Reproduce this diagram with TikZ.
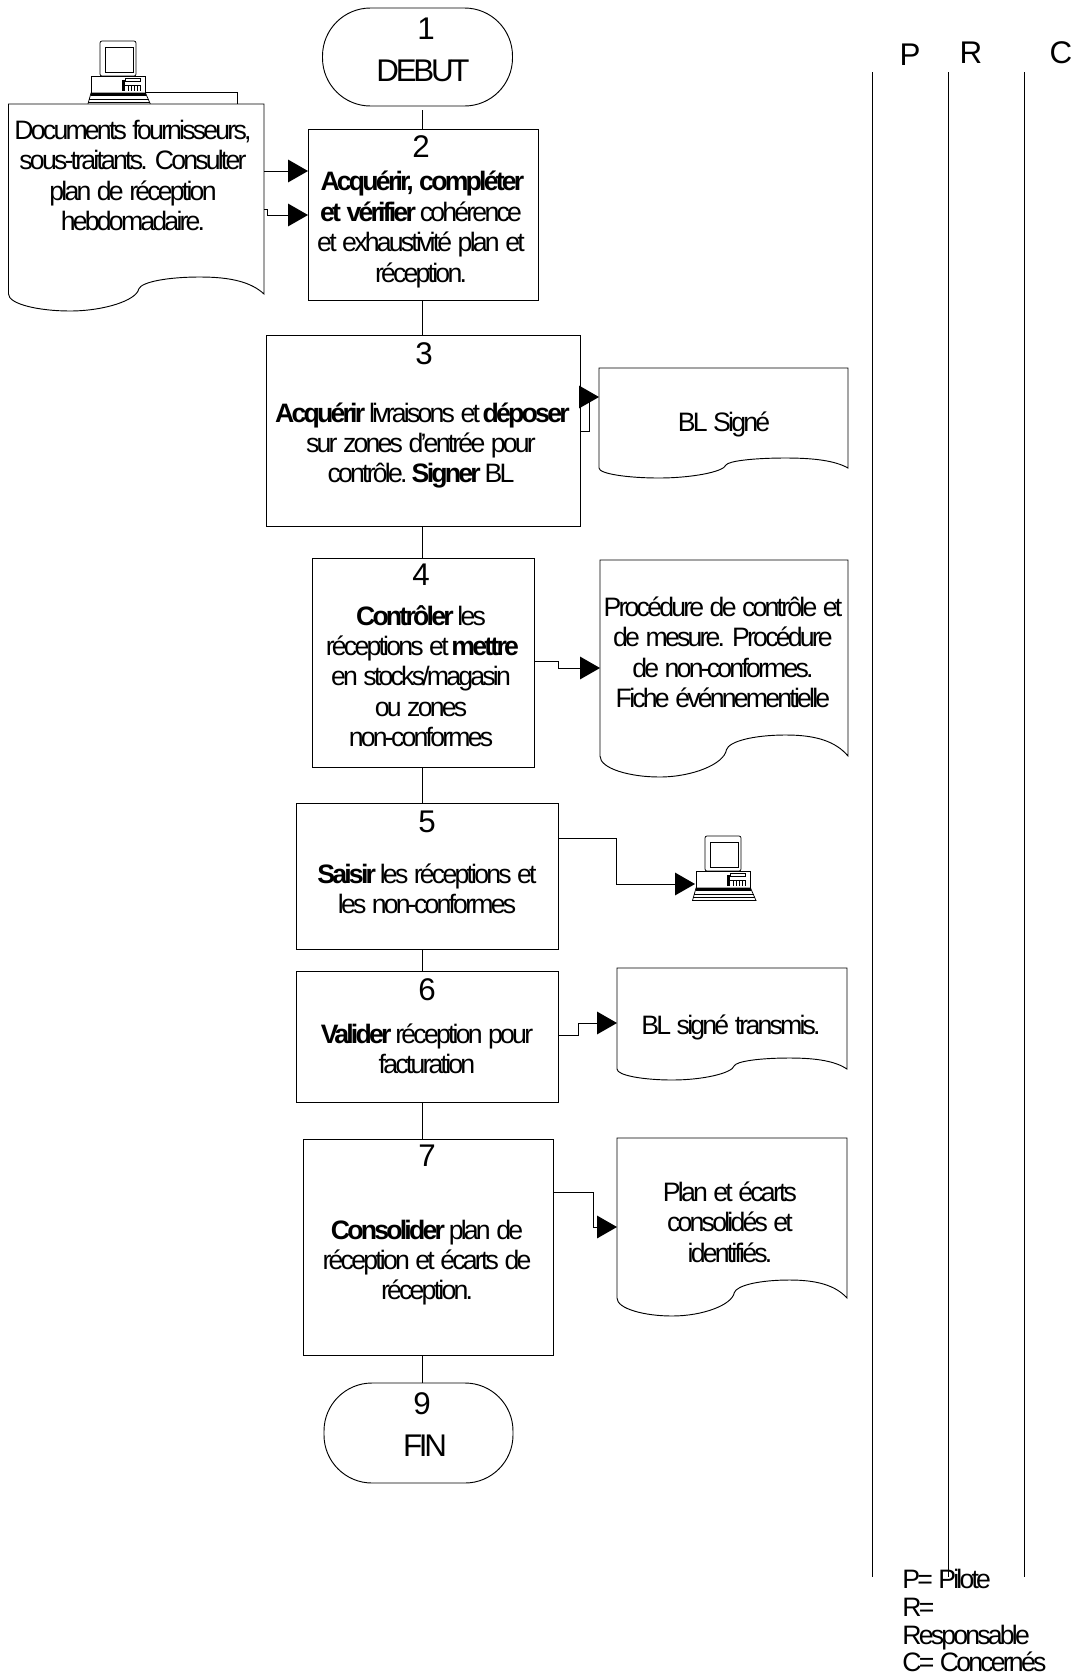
\documentclass[tikz,border=0pt]{standalone}
\usepackage{fontspec}
\setmainfont[LetterSpace=-10.5,WordSpace=1.2]{Liberation Sans}
\usetikzlibrary{arrows.meta,fit}
\newcommand\bw[1]{\textbf{#1}\hspace*{5pt}\ignorespaces}
\tikzset{
  x=0.75pt,y=-0.75pt,
  ln/.style={draw=black,line width=0.7pt},
  arr/.style={ln,-{Triangle[length=15pt,width=17pt,fill=black]}},
  boxn/.style={ln,rectangle,inner sep=0pt,outer sep=0pt},
  term/.style={ln,rectangle,rounded corners=36pt,inner sep=0pt,outer sep=0pt},
  body/.style={align=center,inner sep=0pt,font=\fontsize{20pt}{22.8pt}\selectfont},
  big/.style={inner sep=0pt,font=\fontsize{23.5pt}{26pt}\selectfont},
  pics/computer/.style={code={
    \begin{scope}[line width=0.55pt,draw=black,fill=white]
    \filldraw[rounded corners=1.5pt] (13,0) rectangle (49,35);
    \draw (18,6) rectangle (46,31);
    \filldraw (4.5,35) rectangle (58,52);
    \filldraw (0.5,64.5) -- (4,52) -- (58.5,52) -- (64,64.5) -- cycle;
    \fill[black] (3.5,52) rectangle (59,54.5);
    \draw (2,58) -- (62,58) (1,61) -- (63,61);
    \draw (38,37.5) rectangle (53,40.5);
    \fill[black] (34.5,39) rectangle (38,50);
    \draw (38,44) -- (53,44);
    \draw (41,44) -- (41,50) (44,44) -- (44,50) (47,44) -- (47,50) (50,44) -- (50,50) (53,44) -- (53,50);
    \end{scope}
  }},
}
\newcommand\dpt[2]{({\docx+#1*\docw},{\docy+#2*\doch})}
\newcommand\docshape[6]{%
  \pgfmathsetmacro\docx{#2}\pgfmathsetmacro\docw{#4-#2}%
  \pgfmathsetmacro\docy{#5}\pgfmathsetmacro\doch{#6-#5}%
  \coordinate (#1nw) at (#2,#3);\coordinate (#1se) at (#4,#5);
  \node[fit=(#1nw)(#1se),inner sep=0pt,outer sep=0pt] (#1) {};
  \draw[ln,fill=white] (#2,#5) -- (#2,#3) -- (#4,#3) -- \dpt{1}{0}
    .. controls \dpt{.95}{-.7} and \dpt{.87}{-1} .. \dpt{.75}{-1}
    .. controls \dpt{.62}{-1} and \dpt{.52}{-.7} .. \dpt{.51}{-.3}
    .. controls \dpt{.5}{.4} and \dpt{.37}{1} .. \dpt{.24}{1}
    .. controls \dpt{.12}{1} and \dpt{0}{.6} .. \dpt{0}{0};
}
\begin{document}
\begin{tikzpicture}
\useasboundingbox (0,0) rectangle (1090,1675);
% back sheet and computer above first document
\coordinate (bs1) at (146,92); \coordinate (bs2) at (237,92); \coordinate (bs3) at (237,104);
\draw[ln] (bs1) -- (bs2) -- (bs3);
\pic (pc1) at (87,41) {computer};
\docshape{d1}{8.5}{104}{264}{294}{311}
\docshape{d3}{599}{368}{848}{468}{478}
\docshape{d4}{600}{560}{848}{756}{777}
\docshape{d6}{617}{968}{847}{1069}{1080}
\docshape{d7}{617}{1138}{847}{1298}{1316}
% process nodes
\node[term,minimum width=190*0.75pt,minimum height=98*0.75pt] (n1) at (417.5,57) {};
\node[boxn,minimum width=230*0.75pt,minimum height=171*0.75pt] (n2) at (423,214.5) {};
\node[boxn,minimum width=314*0.75pt,minimum height=191*0.75pt] (n3) at (423.5,431) {};
\node[boxn,minimum width=222*0.75pt,minimum height=209*0.75pt] (n4) at (423,663) {};
\node[boxn,minimum width=262*0.75pt,minimum height=146*0.75pt] (n5) at (427.5,876.5) {};
\node[boxn,minimum width=262*0.75pt,minimum height=131*0.75pt] (n6) at (427.5,1036.5) {};
\node[boxn,minimum width=250*0.75pt,minimum height=216*0.75pt] (n7) at (428,1247) {};
\node[term,minimum width=189*0.75pt,minimum height=100*0.75pt] (n9) at (418.5,1433) {};
% texts
\node[big] (k1) at (426,29) {1};
\node[big] (lab1) at (423,71) {DEBUT};
\node[big] (k2) at (421,147) {2};
\node[body] (t2) at (421,229.5) {\textbf{Acquérir, compléter}\\\bw{et vérifier} cohérence\\et exhaustivité plan et\\réception.};
\node[big] (k3) at (424,354) {3};
\node[body] (t3) at (421,445.5) {\bw{Acquérir} livraisons et \textbf{déposer}\\sur zones d'entrée pour\\contrôle. \bw{Signer} BL};
\node[big] (k4) at (421,575) {4};
\node[body] (t4) at (421,676) {\bw{Contrôler} les\\réceptions et \textbf{mettre}\\en stocks/magasin\\ou zones\\non-conformes};
\node[big] (k5) at (427,822) {5};
\node[body] (t5) at (427,889) {\bw{Saisir} les réceptions et\\les non-conformes};
\node[big] (k6) at (427,990) {6};
\node[body] (t6) at (427,1048.5) {\bw{Valider} réception pour\\facturation};
\node[big] (k7) at (427,1156) {7};
\node[body] (t7) at (427,1262.5) {\bw{Consolider} plan de\\réception et écarts de\\réception.};
\node[big] (k9) at (422,1404) {9};
\node[big] (lab9) at (425,1446) {FIN};
\node[body] (td1) at (133,175.5) {Documents fournisseurs,\\sous-traitants. Consulter\\plan de réception\\hebdomadaire.};
\node[body] (td3) at (724,424) {BL Signé};
\node[body] (td4) at (723,652.5) {Procédure de contrôle et\\de mesure. Procédure\\de non-conformes.\\Fiche événnementielle};
\node[body] (td6) at (731,1027) {BL signé transmis.};
\node[body] (td7) at (730,1222) {Plan et écarts\\consolidés et\\identifiés.};
\node[big] (hP) at (910,55) {P};
\node[big] (hR) at (971,53) {R};
\node[big] (hC) at (1061,53) {C};
\node[body,anchor=base west] (leg1) at (902,1588) {P= Pilote};
\node[body,anchor=base west] (leg2) at (902,1616) {R=};
\node[body,anchor=base west] (leg3) at (902,1644) {Responsable};
\node[body,anchor=base west] (leg4) at (902,1671) {C= Concernés};
% swimlane lines
\coordinate (pa) at (872,72); \coordinate (pb) at (872,1577);
\coordinate (ra) at (948,72); \coordinate (rb) at (948,1577);
\coordinate (ca) at (1024,72); \coordinate (cb) at (1024,1577);
\draw[ln] (pa) -- (pb); \draw[ln] (ra) -- (rb); \draw[ln] (ca) -- (cb);
% flow
\coordinate (g1) at (422,110);
\draw[ln] (g1) -- (g1 |- n2.north);
\draw[ln] (n2.south -| g1) -- (n3.north -| g1);
\draw[ln] (n3.south -| g1) -- (n4.north -| g1);
\draw[ln] (n4.south -| g1) -- (n5.north -| g1);
\draw[ln] (n5.south -| g1) -- (n6.north -| g1);
\draw[ln] (n6.south -| g1) -- (n7.north -| g1);
\draw[ln] (n7.south -| g1) -- (n9.north -| g1);
% side connectors
\draw[arr] (d1.east |- 0,171) -- (n2.west |- 0,171);
\draw[arr] (d1.east |- 0,209) -- (267,209) -- (267,215) -- (n2.west |- 0,215);
\draw[arr] (n3.east |- 0,431) -- (589,431) -- (589,397) -- (d3.west |- 0,397);
\draw[arr] (n4.east |- 0,661) -- (558,661) -- (558,668) -- (d4.west |- 0,668);
\draw[arr] (n5.east |- 0,838) -- (616,838) -- (616,884) -- (695,884);
\draw[arr] (n6.east |- 0,1035) -- (578,1035) -- (578,1023) -- (d6.west |- 0,1023);
\draw[arr] (n7.east |- 0,1192) -- (593,1192) -- (593,1227) -- (d7.west |- 0,1227);
\pic (pc2) at (692,836) {computer};
\end{tikzpicture}
\end{document}
